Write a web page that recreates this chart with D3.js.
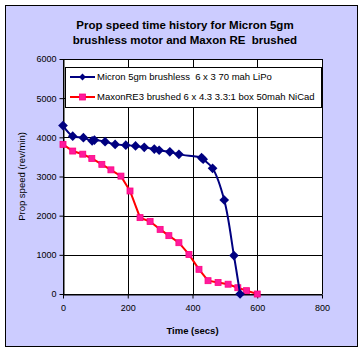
<!DOCTYPE html>
<html>
<head>
<meta charset="utf-8">
<script src="https://cdn.jsdelivr.net/npm/d3@7"></script>
<style>
body { margin: 0; background: #fff; }
svg { display: block; font-family: "Liberation Sans", Arial, sans-serif; }
text { white-space: pre; }
</style>
</head>
<body>
<div id="container"></div>
<script>
width = 364;
height = 353;

// readings from the picture
micronTime  = [0, 30, 63, 90, 97, 130, 161, 194, 224, 251, 282, 297, 330, 358, 428, 433, 462, 498, 528, 547];
micronSpeed = [4300, 4030, 3990, 3910, 3930, 3890, 3820, 3800, 3780, 3745, 3700, 3670, 3630, 3565, 3480, 3440, 3210, 2400, 980, 0];
maxonTime  = [0, 30, 61, 89, 120, 148, 179, 207, 238, 269, 300, 327, 358, 389, 420, 448, 479, 510, 540, 567, 600];
maxonSpeed = [3820, 3650, 3570, 3460, 3310, 3170, 3010, 2630, 1950, 1850, 1650, 1490, 1310, 1010, 630, 340, 295, 250, 160, 85, 0];
xTicks = [0, 200, 400, 600, 800];
yTicks = [0, 1000, 2000, 3000, 4000, 5000, 6000];
titleLines = ["Prop speed time history for Micron 5gm", "brushless motor and Maxon RE  brushed"];
seriesNames = ["Micron 5gm brushless  6 x 3 70 mah LiPo", "MaxonRE3 brushed 6 x 4.3 3.3:1 box 50mah NiCad"];

const plot = {left: 63, right: 322, top: 59, bottom: 294};

const x = d3.scaleLinear().domain([0, 800]).range([plot.left, plot.right]);
const y = d3.scaleLinear().domain([0, 6000]).range([plot.bottom, plot.top]);

const svg = d3.select("#container").append("svg")
    .attr("width", width)
    .attr("height", height);

// chart area
svg.append("rect")
    .attr("x", 5.5).attr("y", 5.5)
    .attr("width", 352).attr("height", 341)
    .attr("fill", "#ccccff")
    .attr("stroke", "#000");

// plot area
svg.append("rect")
    .attr("x", plot.left).attr("y", plot.top)
    .attr("width", plot.right - plot.left).attr("height", plot.bottom - plot.top)
    .attr("fill", "#fff");

// gridlines
svg.append("g")
    .selectAll("line")
    .data(yTicks)
    .join("line")
    .attr("x1", plot.left).attr("x2", plot.right)
    .attr("y1", d => Math.round(y(d)) + 0.5).attr("y2", d => Math.round(y(d)) + 0.5)
    .attr("stroke", "#000");
svg.append("g")
    .selectAll("line")
    .data(xTicks)
    .join("line")
    .attr("y1", plot.top).attr("y2", plot.bottom)
    .attr("x1", d => Math.round(x(d)) + 0.5).attr("x2", d => Math.round(x(d)) + 0.5)
    .attr("stroke", "#000");

// axes
const xAxis = svg.append("g")
    .attr("transform", `translate(0,${plot.bottom + 0.5})`)
    .call(d3.axisBottom(x).tickValues(xTicks).tickFormat(d3.format("d")).tickSize(4).tickSizeOuter(0));
const yAxis = svg.append("g")
    .attr("transform", `translate(${plot.left + 0.5},0)`)
    .call(d3.axisLeft(y).tickValues(yTicks).tickFormat(d3.format("d")).tickSize(4).tickSizeOuter(0));
[xAxis, yAxis].forEach(a => {
    a.selectAll("path, line").attr("stroke", "#000");
    a.selectAll("text").attr("font-family", "Liberation Sans, Arial, sans-serif")
        .attr("font-size", 9).attr("fill", "#000");
});
xAxis.selectAll("text").attr("dy", "1.1em");

// axis titles
svg.append("text")
    .attr("x", (plot.left + plot.right) / 2).attr("y", 334)
    .attr("text-anchor", "middle")
    .attr("font-size", 9.5).attr("font-weight", "bold")
    .text("Time (secs)");
svg.append("text")
    .attr("transform", `translate(25,${(plot.top + plot.bottom) / 2}) rotate(-90)`)
    .attr("text-anchor", "middle")
    .attr("font-size", 9.5)
    .text("Prop speed (rev/min)");

// title
svg.append("g")
    .selectAll("text")
    .data(titleLines)
    .join("text")
    .attr("x", 185).attr("y", (d, i) => 29 + i * 15)
    .attr("text-anchor", "middle")
    .attr("font-size", 11.5).attr("font-weight", "bold")
    .text(d => d);

// series
const micron = micronTime.map((t, i) => [t, micronSpeed[i]]);
const maxon = maxonTime.map((t, i) => [t, maxonSpeed[i]]);

svg.append("path")
    .datum(maxon)
    .attr("fill", "none")
    .attr("stroke", "#ff0000")
    .attr("stroke-width", 2)
    .attr("d", d3.line().x(d => x(d[0])).y(d => y(d[1])));
svg.append("g")
    .selectAll("rect")
    .data(maxon)
    .join("rect")
    .attr("x", d => x(d[0]) - 3).attr("y", d => y(d[1]) - 3)
    .attr("width", 6).attr("height", 6)
    .attr("fill", "#ff1a9c")
    .attr("stroke", "#ff0080")
    .attr("stroke-width", 0.8);

svg.append("path")
    .datum(micron)
    .attr("fill", "none")
    .attr("stroke", "#000080")
    .attr("stroke-width", 2)
    .attr("d", d3.line().curve(d3.curveCatmullRom).x(d => x(d[0])).y(d => y(d[1])));
const diamond = d3.symbol().type(d3.symbolDiamond2).size(60);
svg.append("g")
    .selectAll("path")
    .data(micron)
    .join("path")
    .attr("transform", d => `translate(${x(d[0])},${y(d[1])})`)
    .attr("d", diamond)
    .attr("fill", "#000080");

// legend
const legend = svg.append("g");
legend.append("rect")
    .attr("x", 65.5).attr("y", 67.5)
    .attr("width", 256).attr("height", 40)
    .attr("fill", "#fff")
    .attr("stroke", "#000");
const rows = legend.selectAll("g")
    .data(seriesNames)
    .join("g")
    .attr("transform", (d, i) => `translate(0,${77 + i * 20})`);
rows.append("line")
    .attr("x1", 70).attr("x2", 95)
    .attr("stroke", (d, i) => i === 0 ? "#000080" : "#ff0000")
    .attr("stroke-width", 2);
rows.filter((d, i) => i === 0).append("path")
    .attr("transform", "translate(82.5,0)")
    .attr("d", d3.symbol().type(d3.symbolDiamond2).size(30))
    .attr("fill", "#000080");
rows.filter((d, i) => i === 1).append("rect")
    .attr("x", 79.5).attr("y", -3).attr("width", 6).attr("height", 6)
    .attr("fill", "#ff1a9c").attr("stroke", "#ff0080").attr("stroke-width", 0.8);
rows.append("text")
    .attr("x", 97).attr("dy", "0.35em")
    .attr("font-size", 9.5)
    .text(d => d);
</script>
</body>
</html>
